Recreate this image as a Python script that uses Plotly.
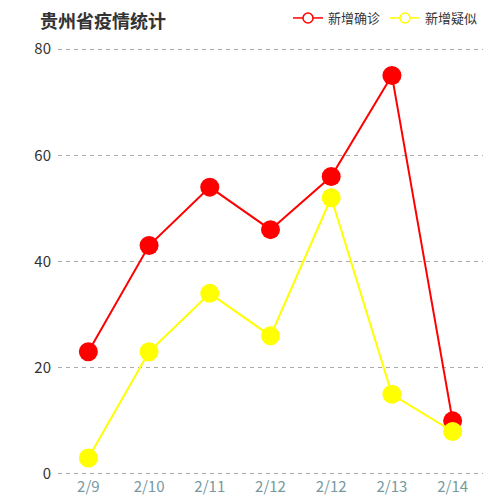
import plotly.graph_objects as go

categories = ["2/9", "2/10", "2/11", "2/12", "2/12", "2/13", "2/14"]
confirmed = [23, 43, 54, 46, 56, 75, 10]
suspected = [3, 23, 34, 26, 52, 15, 8]
y_ticks = [0, 20, 40, 60, 80]
series_names = ["新增确诊", "新增疑似"]
series_colors = ["#ff0000", "#ffff00"]

xpos = list(range(len(categories)))

fig = go.Figure()
for name, vals, col in zip(series_names, [confirmed, suspected], series_colors):
    fig.add_trace(go.Scatter(
        x=xpos, y=vals, name=name, mode="lines+markers",
        line=dict(color=col, width=2),
        marker=dict(color=col, size=19),
        showlegend=False,
    ))
for name, col in zip(series_names, series_colors):
    fig.add_trace(go.Scatter(
        x=[None], y=[None], name=name, mode="lines+markers",
        line=dict(color=col, width=1.5),
        marker=dict(color="white", size=10, line=dict(color=col, width=1.5)),
        showlegend=True,
    ))

# page has an 8px body margin; figure coordinates are offset by it
W, H = 492, 492
L, R, T, B = 50, 17, 39, 24
pw = W - L - R
ph = H - T - B

fig.update_layout(
    width=W, height=H,
    margin=dict(l=L, r=R, t=T, b=B, autoexpand=False),
    paper_bgcolor="white", plot_bgcolor="white",
    font=dict(family="Noto Sans CJK SC, sans-serif", color="#333333"),
    showlegend=True,
    legend=dict(orientation="h", xref="paper", yref="paper",
                x=1.0, xanchor="right", y=1 + (T - 10) / ph, yanchor="middle",
                font=dict(size=13, color="#333333"), itemwidth=30,
                bgcolor="rgba(0,0,0,0)", traceorder="normal"),
    xaxis=dict(range=[-0.5, len(categories) - 0.5], tickmode="array", tickvals=xpos,
               ticktext=categories, showgrid=False, zeroline=False, showline=False,
               ticks="", tickfont=dict(size=15, color="#769aa0"), automargin=False),
    yaxis=dict(range=[-0.38, 80.38], tickvals=y_ticks, showgrid=True, gridcolor="#aaaaaa",
               griddash="4px,4px", gridwidth=1, zeroline=False, showline=False, ticks="",
               tickfont=dict(size=15, color="#333333"), ticklabelstandoff=6, automargin=False),
    annotations=[
        dict(text="<b>贵州省疫情统计</b>", xref="paper", yref="paper",
             x=-(L - 30) / pw, y=1 + T / ph, xanchor="left", yanchor="top", yshift=3,
             showarrow=False, font=dict(size=18, color="#333333")),
    ],
)

fig.write_html("out.html")
